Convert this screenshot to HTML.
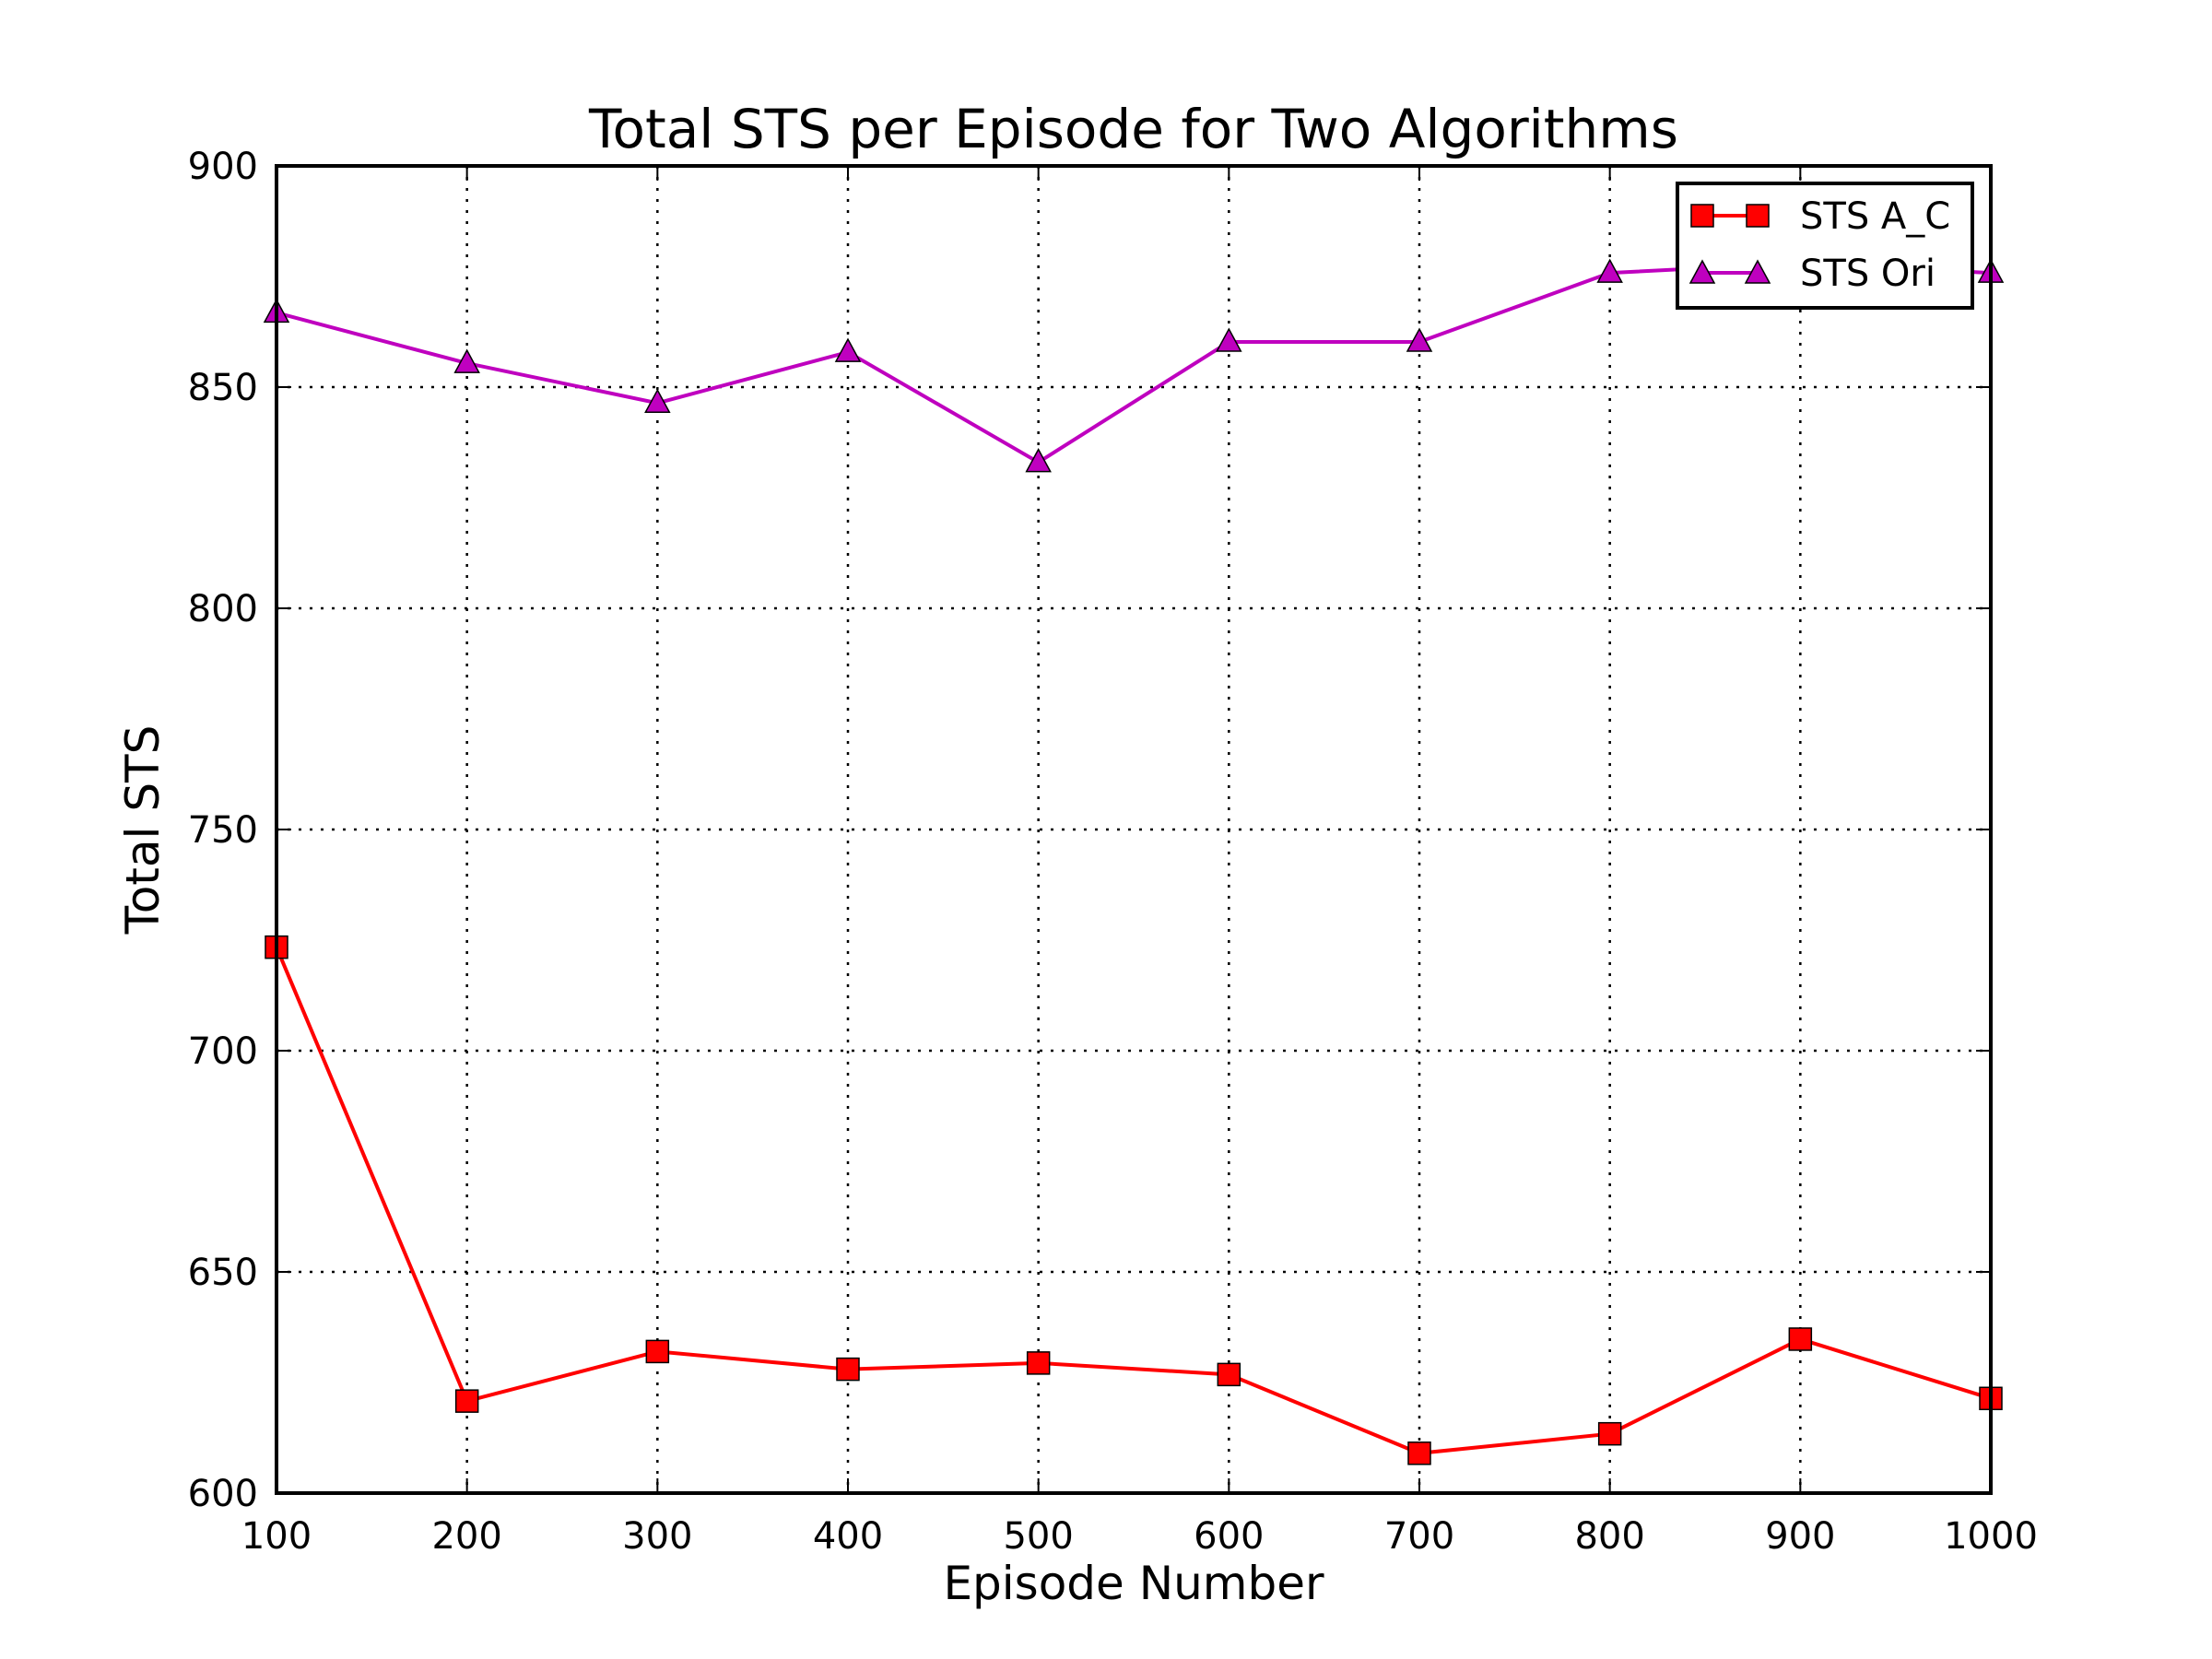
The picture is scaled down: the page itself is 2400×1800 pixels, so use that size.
<!DOCTYPE html>
<html><head><meta charset="utf-8"><style>html,body{margin:0;padding:0;background:#fff}svg{display:block}</style></head>
<body>
<svg id="chart" width="2400" height="1800" xmlns="http://www.w3.org/2000/svg" font-family="DejaVu Sans, Liberation Sans, sans-serif">
<rect width="2400" height="1800" fill="#fff"/>
<text x="1230" y="160" font-size="58" text-anchor="middle">Total STS per Episode for Two Algorithms</text>
<text x="1230" y="1735" font-size="50" text-anchor="middle">Episode Number</text>
<text transform="translate(172,900) rotate(-90)" font-size="50" text-anchor="middle">Total STS</text>
<g id="grid"></g>
<g id="ticks"></g>
<g id="series"></g>
<rect x="300" y="180" width="1860" height="1440" fill="none" stroke="#000" stroke-width="4"/>
<g>
<rect x="1820" y="199" width="320" height="135" fill="#fff" stroke="#000" stroke-width="4"/>
<g>
<line x1="1846" y1="234" x2="1907" y2="234" stroke="#f00" stroke-width="4"/>
<rect x="1835" y="222" width="24" height="24" fill="#f00" stroke="#000" stroke-width="1.5"/>
<rect x="1895" y="222" width="24" height="24" fill="#f00" stroke="#000" stroke-width="1.5"/>
<text x="1953" y="248" font-size="40">STS A_C</text>
</g>
<g>
<line x1="1846" y1="296" x2="1907" y2="296" stroke="#bf00bf" stroke-width="4"/>
<polygon points="1847,283 1860,307 1834,307" fill="#bf00bf" stroke="#000" stroke-width="1.5"/>
<polygon points="1907,283 1920,307 1894,307" fill="#bf00bf" stroke="#000" stroke-width="1.5"/>
<text x="1953" y="310" font-size="40">STS Ori</text>
</g>
</g>
</svg>
<script>
const episodes = [100,200,300,400,500,600,700,800,900,1000];
const stsAC = [723.4,620.8,632,628,629.4,626.8,609,613.4,634.8,621.4];
const stsOri = [866.8,855.4,846.4,857.9,833,860.2,860.2,875.8,878,875.8];
const xTicks = [100,200,300,400,500,600,700,800,900,1000];
const yTicks = [600,650,700,750,800,850,900];

const NS='http://www.w3.org/2000/svg';
const L=300,R=2160,T=180,B=1620;
const xs=v=>L+(v-100)/(1000-100)*(R-L);
const ys=v=>B-(v-600)/(900-600)*(B-T);
function mk(tag,attrs,parent){const e=document.createElementNS(NS,tag);for(const k in attrs)e.setAttribute(k,attrs[k]);parent.appendChild(e);return e;}
const grid=document.getElementById('grid'),ticks=document.getElementById('ticks'),series=document.getElementById('series');
xTicks.forEach(t=>{
  const x=xs(t);
  const g=mk('line',{x1:x,y1:T,x2:x,y2:B,stroke:'#000','stroke-width':2.5,'stroke-dasharray':'3,9'},grid);
  
  
  mk('line',{x1:x,y1:B,x2:x,y2:B-16,stroke:'#000','stroke-width':2},ticks);
  mk('line',{x1:x,y1:T,x2:x,y2:T+16,stroke:'#000','stroke-width':2},ticks);
  const tx=mk('text',{x:x,y:B+60,'font-size':40,'text-anchor':'middle'},ticks);
  tx.textContent=t;
  
  
});
yTicks.forEach(t=>{
  const y=ys(t);
  const g=mk('line',{x1:L,y1:y,x2:R,y2:y,stroke:'#000','stroke-width':2.5,'stroke-dasharray':'3,9'},grid);
  
  
  mk('line',{x1:L,y1:y,x2:L+16,y2:y,stroke:'#000','stroke-width':2},ticks);
  mk('line',{x1:R,y1:y,x2:R-16,y2:y,stroke:'#000','stroke-width':2},ticks);
  const tx=mk('text',{x:L-20,y:y+14,'font-size':40,'text-anchor':'end'},ticks);
  tx.textContent=t;
  
  
});
function drawSeries(vals,color,name,marker){
  const p=mk('polyline',{points:vals.map((v,i)=>xs(episodes[i])+','+ys(v)).join(' '),fill:'none',stroke:color,'stroke-width':4},series);
  
  
  vals.forEach((v,i)=>{
    const x=xs(episodes[i]),y=ys(v);let m;
    if(marker==='square')m=mk('rect',{x:x-12,y:y-12,width:24,height:24,fill:color,stroke:'#000','stroke-width':1.5},series);
    else m=mk('polygon',{points:`${x},${y-14} ${x+13},${y+10} ${x-13},${y+10}`,fill:color,stroke:'#000','stroke-width':1.5},series);
    
    
  });
}
drawSeries(stsAC,'#f00','sts-ac','square');
drawSeries(stsOri,'#bf00bf','sts-ori','triangle');
</script>
</body></html>
